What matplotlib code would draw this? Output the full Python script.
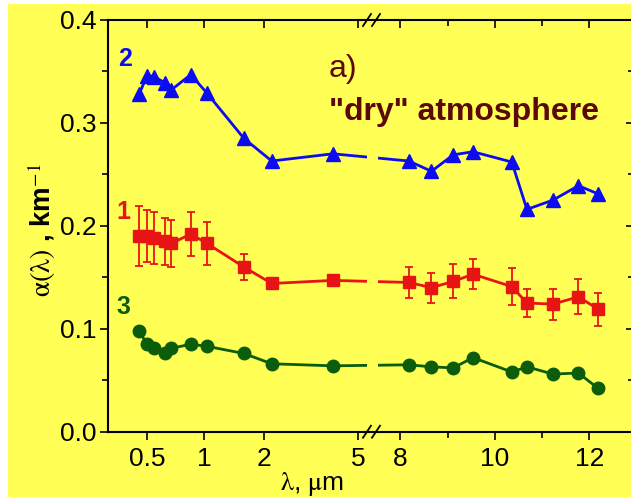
import numpy as np
import matplotlib
matplotlib.use("Agg")
import matplotlib.pyplot as plt
from matplotlib.patches import Rectangle

plt.rcParams['font.family'] = ['Liberation Sans', 'DejaVu Sans']
plt.rcParams['mathtext.fontset'] = 'stix'

# data
wavelength = [0.455, 0.50, 0.545, 0.62, 0.67, 0.85, 1.03, 1.58, 2.15, 3.9,
              8.18, 8.66, 9.12, 9.54, 10.36, 10.68, 11.23, 11.77, 12.19]
alpha_1 = [0.190, 0.190, 0.188, 0.185, 0.183, 0.192, 0.183, 0.160, 0.144, 0.147,
           0.145, 0.140, 0.146, 0.153, 0.141, 0.125, 0.124, 0.131, 0.119]
err_1 = [0.029, 0.025, 0.025, 0.023, 0.023, 0.021, 0.021, 0.013, 0.003, 0.002,
         0.015, 0.0145, 0.0165, 0.0147, 0.018, 0.014, 0.015, 0.017, 0.016]
alpha_2 = [0.328, 0.346, 0.345, 0.339, 0.332, 0.347, 0.329, 0.285, 0.263, 0.270,
           0.263, 0.253, 0.269, 0.272, 0.262, 0.216, 0.225, 0.239, 0.231]
alpha_3 = [0.098, 0.085, 0.081, 0.076, 0.081, 0.085, 0.083, 0.076, 0.066, 0.064,
           0.065, 0.063, 0.062, 0.072, 0.058, 0.063, 0.056, 0.057, 0.042]
xticks = [0.5, 1, 2, 5, 8, 10, 12]
xtick_labels = ["0.5", "1", "2", "5", "8", "10", "12"]
xminor = [9, 11]

YELLOW = '#ffff55'
BLUE = '#0c0cf0'
RED = '#e81414'
GREEN = '#0b5c0b'
BROWN = '#5c0808'

# broken axis: log-like part up to ~5.6 um, linear part from ~7.4 um
LOG_K = np.array([-6, -1, 0, 1, np.log2(5), np.log2(5.6)])
PIX_K = np.array([147 - 5 * 57.3, 147, 204.3, 264.3, 358.3, 369.9])
BRK = 369.95


def fwd(x):
    x = np.asarray(x, float)
    lx = np.log2(np.clip(x, 1e-3, 5.6))
    left = np.interp(lx, LOG_K, PIX_K)
    right = np.maximum(400.3 + (x - 8) * 47.25, BRK)
    return np.where(x <= 5.6, left, right)


def inv(p):
    p = np.asarray(p, float)
    left = 2 ** np.interp(p, PIX_K, LOG_K)
    right = 8 + (p - 400.3) / 47.25
    return np.where(p <= BRK, left, right)


W, H = 631, 501
fig = plt.figure(figsize=(W / 100, H / 100), dpi=100, facecolor='white')
fig.patches.append(Rectangle((8 / W, 4 / H), 1, 493 / H, transform=fig.transFigure,
                             facecolor=YELLOW, edgecolor='none', zorder=-10))

pos = [108 / W, (H - 431.7) / H, 526 / W, 411.7 / H]
ax = fig.add_axes(pos)
ax.set_facecolor('none')
ax.set_xscale('function', functions=(fwd, inv))
xlim = (float(inv(108)), float(inv(634)))
ax.set_xlim(xlim)
ax.set_ylim(0, 0.4)

ax.plot(wavelength, alpha_2, '-^', color=BLUE, lw=2, ms=9.5)
ax.errorbar(wavelength, alpha_1, yerr=err_1, fmt='-s', color=RED, lw=2, ms=8.5,
            elinewidth=1.3, capsize=3, capthick=1.3)
ax.plot(wavelength, alpha_3, '-o', color=GREEN, lw=2, ms=9)

# gap in the curves at the axis break
ax.axvspan(float(inv(367)), float(inv(378)), color=YELLOW, lw=0, zorder=2.2)

ax.set_xticks(xticks)
ax.set_xticklabels(xtick_labels)
ax.set_xticks(xminor, minor=True)
ax.set_yticks(np.arange(0, 0.41, 0.1))
ax.set_yticklabels(["%.1f" % v for v in np.arange(0, 0.41, 0.1)])
ax.set_yticks(np.arange(0.05, 0.4, 0.1), minor=True)
ax.tick_params(which='both', direction='out', labelsize=19, width=1.2, colors='black')
ax.tick_params(axis='x', which='major', length=6, pad=5)
ax.tick_params(axis='x', which='minor', length=4)
ax.tick_params(axis='y', which='major', length=6, pad=2)
ax.tick_params(axis='y', which='minor', length=4)
for s in ax.spines.values():
    s.set_linewidth(1.5)

# mirrored ticks on top and right, pointing inward
axm = fig.add_axes(pos, facecolor='none')
axm.set_xscale('function', functions=(fwd, inv))
axm.set_xlim(xlim)
axm.set_ylim(0, 0.4)
axm.xaxis.tick_top()
axm.yaxis.tick_right()
axm.set_xticks(xticks)
axm.set_xticks(xminor, minor=True)
axm.set_yticks(np.arange(0, 0.41, 0.1))
axm.set_yticks(np.arange(0.05, 0.4, 0.1), minor=True)
axm.tick_params(which='both', direction='in', labeltop=False, labelright=False, width=1.2)
axm.tick_params(which='major', length=6)
axm.tick_params(which='minor', length=4)
for s in axm.spines.values():
    s.set_visible(False)

# break marks
for yb in (1.0, 0.0):
    for x0 in (363, 372):
        ax.plot([(x0 - 108) / 526, (x0 + 8 - 108) / 526],
                [yb - 6 / 411.7, yb + 6 / 411.7],
                transform=ax.transAxes, color='black', lw=1.3, clip_on=False, zorder=5)

ax.set_xlabel(r"$\mathrm{\lambda}$, $\mathrm{\mu}$m", fontsize=19)
ax.xaxis.set_label_coords((312 - 108) / 526, -(470 - 431.7) / 411.7)
ax.set_ylabel(r"$\mathrm{\alpha(\lambda)}$ , km$^{-1}$", fontsize=20, fontweight='bold')
ax.yaxis.set_label_coords((58 - 108) / 526, (431.7 - 230) / 411.7)

ax.text(0.032, 0.905, "2", transform=ax.transAxes, color=BLUE, fontsize=18,
        fontweight='bold', ha='center', va='center')
ax.text(0.029, 0.534, "1", transform=ax.transAxes, color=RED, fontsize=18,
        fontweight='bold', ha='center', va='center')
ax.text(0.030, 0.303, "3", transform=ax.transAxes, color=GREEN, fontsize=18,
        fontweight='bold', ha='center', va='center')
ax.text((329 - 108) / 526, (431.7 - 69) / 411.7, "a)", transform=ax.transAxes,
        color=BROWN, fontsize=23, ha='left', va='center')
ax.text((329 - 108) / 526, (431.7 - 120) / 411.7, "\"dry\" atmosphere",
        transform=ax.transAxes, color=BROWN, fontsize=23, fontweight='bold',
        ha='left', va='baseline')

fig.savefig("out.png", dpi=100, facecolor='white')
